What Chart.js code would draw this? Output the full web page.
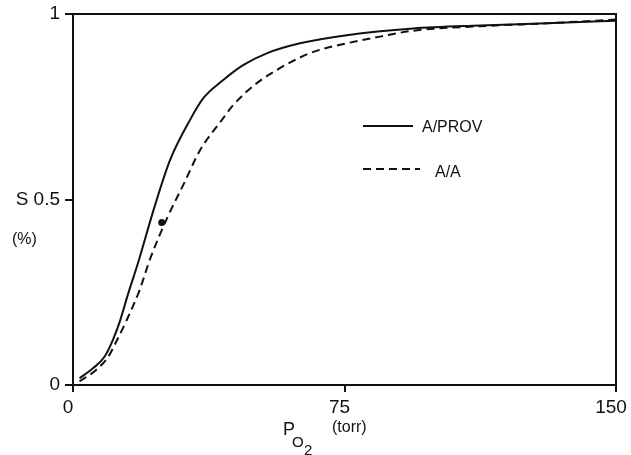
<!DOCTYPE html>
<html><head><meta charset="utf-8">
<script src="https://cdn.jsdelivr.net/npm/chart.js@4/dist/chart.umd.min.js"></script>
<style>html,body{margin:0;padding:0;background:#fff}#wrap{width:631px;height:455px}</style>
</head><body><div id="wrap"><canvas id="c" width="631" height="455"></canvas></div>
<script>
// Data (P_O2 in torr, saturation S as fraction)
const provP = [1.8, 5.5, 8.7, 11.0, 12.9, 15.2, 18.0, 22.2, 26.8, 32.3, 36.0, 41.5, 47.0, 53.5, 62.7, 75.6, 94.0, 112.4, 130.9, 150];
const provS = [0.018, 0.045, 0.076, 0.121, 0.170, 0.245, 0.33, 0.47, 0.606, 0.714, 0.773, 0.822, 0.862, 0.894, 0.921, 0.943, 0.961, 0.969, 0.975, 0.982];
const aaP = [1.8, 6.3, 9.6, 12.0, 14.6, 18.4, 21.3, 26.0, 30.5, 35.1, 41.1, 44.3, 50.7, 56.3, 61.3, 66.4, 75.6, 84.8, 94.0, 112.4, 130.9, 150];
const aaS = [0.010, 0.040, 0.074, 0.118, 0.17, 0.256, 0.34, 0.45, 0.54, 0.633, 0.714, 0.755, 0.813, 0.849, 0.876, 0.898, 0.921, 0.939, 0.955, 0.967, 0.975, 0.985];
const markP = [24.5];
const markS = [0.438];
const xTicks = [0, 75, 150];
const yTicks = [0, 0.5, 1];
const seriesLabels = ['A/PROV', 'A/A'];
const yLabel = 'S';
const yUnit = '(%)';
const xLabelMain = 'P';
const xLabelSub = 'O';
const xLabelSub2 = '2';
const xUnit = '(torr)';

const INK = '#111';
const FONT = "'Liberation Sans', Arial, sans-serif";

const toXY = (xs, ys) => xs.map((x, i) => ({x: x, y: ys[i]}));

const decorPlugin = {
  id: 'decor',
  afterDatasetsDraw(chart) {
    const ctx = chart.ctx, a = chart.chartArea;
    ctx.save();
    ctx.strokeStyle = INK;
    ctx.lineWidth = 2;
    ctx.beginPath();
    ctx.moveTo(a.left, a.top);
    ctx.lineTo(a.right, a.top);
    ctx.lineTo(a.right, a.bottom);
    ctx.stroke();

    // legend
    const ds = chart.data.datasets;
    const items = [{ds: ds[0], y: 126, tx: 422, ty: 132, x2: 413},
                   {ds: ds[1], y: 169, tx: 435, ty: 177, x2: 420}];
    items.forEach(it => {
      ctx.beginPath();
      ctx.setLineDash(it.ds.borderDash || []);
      ctx.lineWidth = 2;
      ctx.moveTo(363, it.y);
      ctx.lineTo(it.x2, it.y);
      ctx.stroke();
      ctx.setLineDash([]);
      ctx.fillStyle = INK;
      ctx.font = '16px ' + FONT;
      ctx.textAlign = 'left';
      ctx.textBaseline = 'alphabetic';
      ctx.fillText(it.ds.label, it.tx, it.ty);
    });

    // y unit
    ctx.font = '16px ' + FONT;
    ctx.fillText(yUnit, 12, 244);

    // x title
    ctx.font = '18px ' + FONT;
    ctx.fillText(xLabelMain, 283, 435);
    ctx.font = '15px ' + FONT;
    ctx.fillText(xLabelSub, 292, 447);
    ctx.fillText(xLabelSub2, 304, 455);
    ctx.font = '16px ' + FONT;
    ctx.fillText(xUnit, 332, 432);
    ctx.restore();
  }
};

new Chart(document.getElementById('c'), {
  type: 'line',
  data: {
    datasets: [
      {label: seriesLabels[0], data: toXY(provP, provS), borderColor: INK, borderWidth: 2,
       pointRadius: 0, fill: false, cubicInterpolationMode: 'monotone'},
      {label: seriesLabels[1], data: toXY(aaP, aaS), borderColor: INK, borderWidth: 2,
       borderDash: [8, 5], pointRadius: 0, fill: false, cubicInterpolationMode: 'monotone'},
      {label: 'point', data: toXY(markP, markS), showLine: false, pointRadius: 3.5,
       pointBackgroundColor: INK, pointBorderColor: INK, borderWidth: 0}
    ]
  },
  options: {
    responsive: false,
    animation: false,
    devicePixelRatio: 1,
    layout: {padding: {top: 14, right: 15, left: 0, bottom: 0}},
    plugins: {legend: {display: false}, tooltip: {enabled: false}},
    scales: {
      x: {
        type: 'linear', min: 0, max: 150,
        afterBuildTicks: s => { s.ticks = xTicks.map(v => ({value: v})); },
        afterFit: s => { s.height = 70; s.paddingRight = 0; s.paddingLeft = 0; },
        border: {display: true, color: INK, width: 2},
        grid: {drawOnChartArea: false, drawTicks: true, tickLength: 7, color: INK, lineWidth: 2},
        ticks: {color: INK, font: {family: FONT, size: 19}, padding: 4, maxRotation: 0, autoSkip: false, labelOffset: -5}
      },
      y: {
        type: 'linear', min: 0, max: 1,
        afterBuildTicks: s => { s.ticks = yTicks.map(v => ({value: v})); },
        afterFit: s => { s.width = 73; s.paddingTop = 0; s.paddingBottom = 0; },
        border: {display: true, color: INK, width: 2},
        grid: {drawOnChartArea: false, drawTicks: true, tickLength: 8, color: INK, lineWidth: 2},
        ticks: {color: INK, font: {family: FONT, size: 19}, padding: 5, autoSkip: false,
          callback: v => v === 0.5 ? yLabel + ' 0.5' : String(v)}
      }
    }
  },
  plugins: [decorPlugin]
});
</script>
</body></html>
